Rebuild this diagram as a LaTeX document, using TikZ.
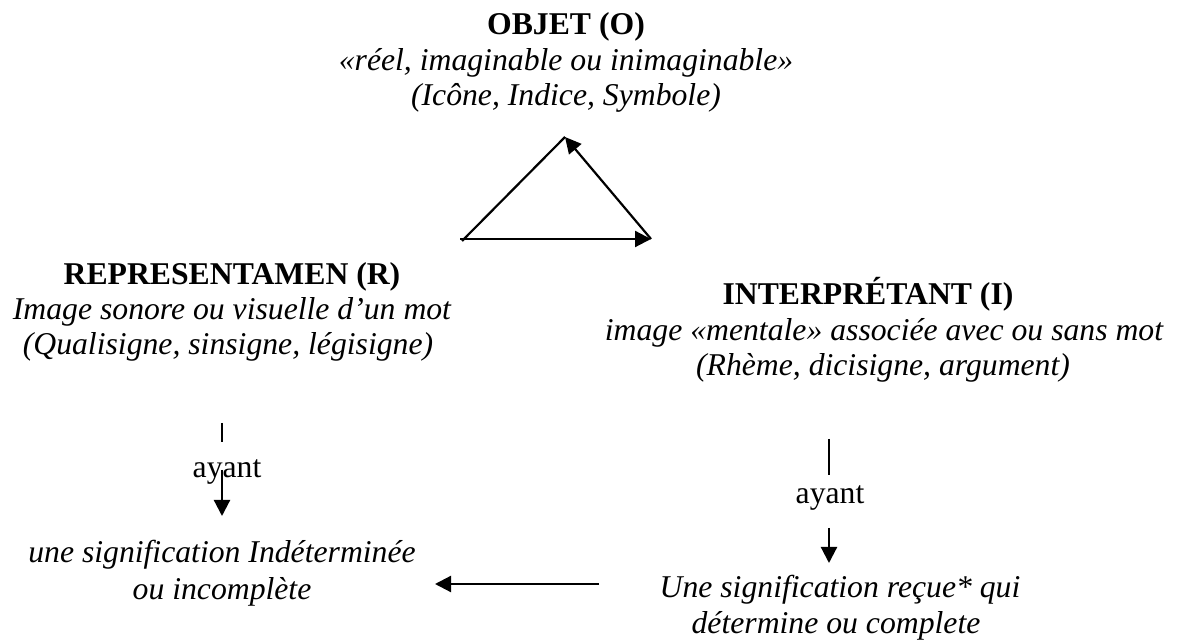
\documentclass[tikz,border=0pt]{standalone}
\usepackage{fontspec}
\setmainfont{Liberation Serif}
\usetikzlibrary{arrows.meta}
\begin{document}
\begin{tikzpicture}[x=0.5pt,y=-0.5pt,
  txt/.style={anchor=base,inner sep=0pt,font=\fontsize{15.85pt}{18pt}\selectfont},
  btxt/.style={txt,font=\fontsize{15.85pt}{18pt}\selectfont\bfseries},
  itxt/.style={txt,font=\fontsize{15.85pt}{18pt}\selectfont\itshape},
  ln/.style={line width=1.1pt},
  arr/.style={ln,-{Triangle[length=8pt,width=8pt]}}]
\useasboundingbox (0,0) rectangle (1184,641);
% top
\node[btxt] (o1) at (566,35) {OBJET (O)};
\node[itxt] (o2) at (566,71) {«réel, imaginable ou inimaginable»};
\node[itxt] (o3) at (566,106) {(Icône, Indice, Symbole)};
% triangle
\coordinate (tA) at (565,137);
\coordinate (tL) at (462,241);
\coordinate (tB) at (460,239);
\coordinate (tR) at (651,239);
\draw[ln] (tL) -- (tA);
\draw[arr] (tB) -- (tR);
\draw[arr] (tR) -- (tA);
% left column
\node[btxt] (r1) at (232,285) {REPRESENTAMEN (R)};
\node[itxt] (r2) at (232,320) {Image sonore ou visuelle d’un mot};
\node[itxt] (r3) at (228,355) {(Qualisigne, sinsigne, légisigne)};
% right column
\node[btxt] (i1) at (868,305) {INTERPRÉTANT (I)};
\node[itxt] (i2) at (884,341) {image «mentale» associée avec ou sans mot};
\node[itxt] (i3) at (883,376) {(Rhème, dicisigne, argument)};
% left chain
\coordinate (lt1) at (222,423);
\coordinate (lt2) at (222,442);
\draw[line width=0.8pt] (lt1) -- (lt2);
\node[txt] (la) at (227,478) {ayant};
\coordinate (la1) at (222,470);
\coordinate (la2) at (222,516);
\draw[arr] (la1) -- (la2);
\node[itxt] (l1) at (222,563) {une signification Indéterminée};
\node[itxt] (l2) at (222,599) {ou incomplète};
% right chain
\coordinate (rt1) at (829,439);
\coordinate (rt2) at (829,475);
\draw[line width=0.8pt] (rt1) -- (rt2);
\node[txt] (ra) at (830,504) {ayant};
\coordinate (ra1) at (829,528);
\coordinate (ra2) at (829,563);
\draw[arr] (ra1) -- (ra2);
\node[itxt] (u1) at (840,597) {Une signification reçue* qui};
\node[itxt] (u2) at (836,633) {détermine ou complete};
% bottom arrow
\coordinate (h1) at (599,584);
\coordinate (h2) at (435,584);
\draw[arr] (h1) -- (h2);
\end{tikzpicture}
\end{document}
